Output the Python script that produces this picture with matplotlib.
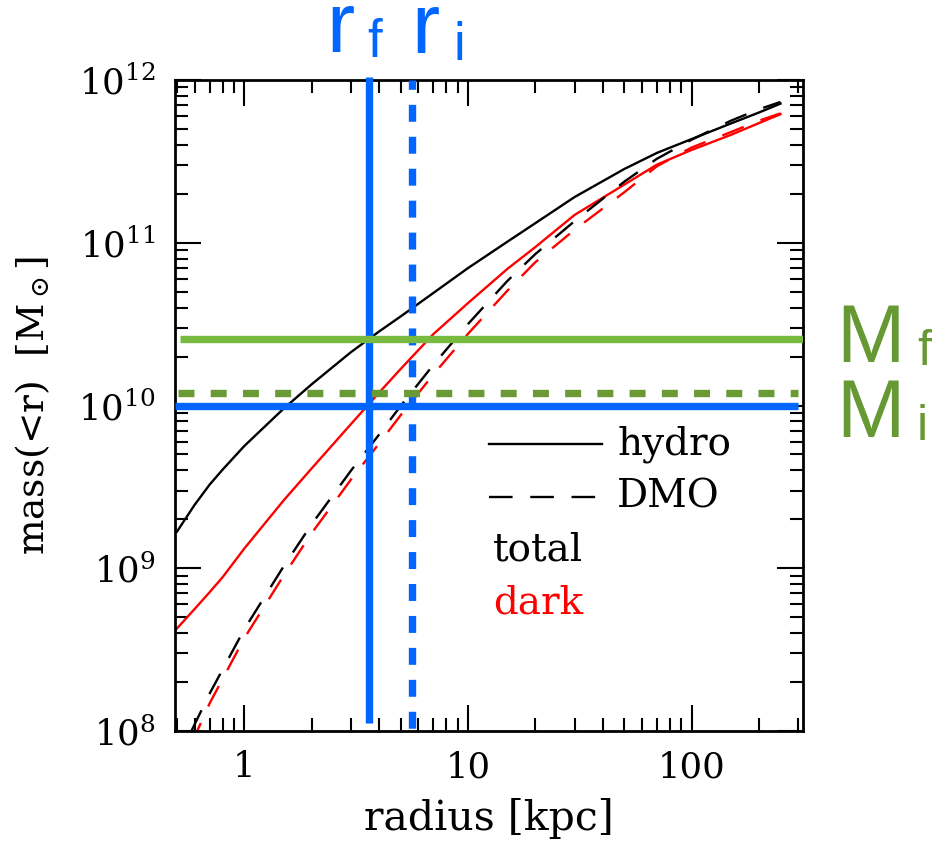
import matplotlib
matplotlib.use("Agg")
from matplotlib import pyplot as plt
from matplotlib import ticker
import numpy as np

plt.rcParams["font.family"] = ["DejaVu Serif"]
plt.rcParams["mathtext.fontset"] = "dejavuserif"
plt.rcParams["mathtext.rm"] = "Liberation Sans"
plt.rcParams["lines.scale_dashes"] = False

# enclosed mass profiles, log10(M / Msun)
radius = [0.5, 0.6, 0.7, 0.8, 1, 1.5, 2, 3, 4, 5, 7, 10, 15, 20, 30, 50, 70, 100, 150, 200, 250]
hydro_total = [9.225, 9.390, 9.514, 9.606, 9.751, 9.981, 10.130, 10.328, 10.454, 10.547,
               10.691, 10.844, 11.006, 11.120, 11.281, 11.453, 11.552, 11.637, 11.733,
               11.800, 11.855]
hydro_dark = [8.630, 8.750, 8.853, 8.945, 9.121, 9.417, 9.613, 9.886, 10.078, 10.224,
              10.438, 10.629, 10.839, 10.973, 11.171, 11.357, 11.480, 11.570, 11.663,
              11.735, 11.790]

radius_dmo = [0.58, 0.7, 1, 1.5, 2, 3, 4, 5, 7, 10, 15, 20, 30, 50, 70, 100, 150, 200, 250]
dmo_total = [8.000, 8.230, 8.625, 9.012, 9.270, 9.600, 9.820, 9.997, 10.249, 10.500,
             10.765, 10.930, 11.133, 11.375, 11.516, 11.633, 11.750, 11.820, 11.865]
dmo_dark = [7.920, 8.170, 8.570, 8.955, 9.215, 9.545, 9.765, 9.940, 10.190, 10.440,
            10.705, 10.880, 11.080, 11.310, 11.470, 11.585, 11.680, 11.750, 11.795]

# characteristic radii [kpc] and masses [Msun]
r_f, r_i = 3.6, 5.6
m_f, m_i = 2.55e10, 1.2e10
m_ref = 1e10

blue = "#0066ff"
green = "#78b940"
green_dash = "#6a9a36"
green_text = "#669933"

fig = plt.figure(figsize=(9.34, 8.42), dpi=100)
ax = fig.add_axes([175/934, 1 - 731/842, 628/934, 651/842])
ax.set_xscale("log")
ax.set_yscale("log")
ax.set_xlim(0.49, 315)
ax.set_ylim(1e8, 1e12)

lw_curve = 1.7
dmo_dash = (16.6, 13.0)
ax.plot(radius, 10**np.array(hydro_total), color="black", lw=lw_curve, zorder=2)
ax.plot(radius, 10**np.array(hydro_dark), color="red", lw=lw_curve, zorder=2)
ax.plot(radius_dmo, 10**np.array(dmo_total), color="black", lw=lw_curve, dashes=dmo_dash, zorder=2)
ax.plot(radius_dmo, 10**np.array(dmo_dark), color="red", lw=lw_curve, dashes=dmo_dash, zorder=2)

lw_thick = 5.3
ax.axvline(r_f, ymin=0.012, ymax=1.004, color=blue, lw=lw_thick, clip_on=False,
           solid_capstyle="butt", zorder=3)
ax.axvline(r_i, ymin=0, ymax=1, color=blue, lw=lw_thick, linestyle=(21, (12.2, 10.8)),
           zorder=3)
ax.axhline(m_ref, xmin=0, xmax=0.992, color=blue, lw=lw_thick, solid_capstyle="butt",
           zorder=3)
ax.axhline(m_f, xmin=0.008, xmax=1, color=green, lw=lw_thick, solid_capstyle="butt",
           zorder=4)
ax.axhline(m_i, xmin=0.004, xmax=0.992, color=green_dash, lw=lw_thick,
           linestyle=(0, (11.5, 11.7)), zorder=4)

# hand-made legend
ax.plot([0.5, 0.68], [0.441, 0.441], transform=ax.transAxes, color="black", lw=lw_curve)
ax.plot([0.5, 0.68], [0.359, 0.359], transform=ax.transAxes, color="black", lw=lw_curve,
        dashes=(17, 12.7))
ax.text(0.704, 0.441, "hydro", transform=ax.transAxes, fontsize=28, va="center")
ax.text(0.704, 0.359, "DMO", transform=ax.transAxes, fontsize=28, va="center")
ax.text(0.506, 0.278, "total", transform=ax.transAxes, fontsize=28, va="center")
ax.text(0.506, 0.197, "dark", transform=ax.transAxes, fontsize=28, va="center", color="red")

ax.set_xlabel("radius [kpc]", fontsize=29.5)
ax.set_ylabel(r"mass(<r)  [M$_\odot$]", fontsize=27)
ax.xaxis.set_label_coords(0.5, -0.103)
ax.yaxis.set_label_coords(-0.196, 0.5)

ax.xaxis.set_major_locator(ticker.FixedLocator([1, 10, 100]))
ax.xaxis.set_major_formatter(ticker.FixedFormatter(["1", "10", "100"]))
ax.xaxis.set_minor_locator(ticker.LogLocator(subs=np.arange(2, 10)))
ax.xaxis.set_minor_formatter(ticker.NullFormatter())
ax.yaxis.set_major_locator(ticker.LogLocator(numticks=10))
ax.yaxis.set_minor_locator(ticker.LogLocator(subs=np.arange(2, 10), numticks=10))
ax.yaxis.set_minor_formatter(ticker.NullFormatter())
ax.tick_params(which="both", direction="in", top=True, right=True, width=1.5,
               labelsize=25.5, pad=14)
ax.tick_params(which="major", length=18.5)
ax.tick_params(which="minor", length=9.5)
for s in ax.spines.values():
    s.set_linewidth(2)

# labels for the marked radii and masses
def fig_text(px, py, s, size, color):
    fig.text(px/934, 1 - py/842, r"$\mathrm{%s}$" % s, fontsize=size, color=color,
             va="baseline", ha="left", math_fontfamily="custom")

fig_text(326, 52, "r", 61, blue)
fig_text(367, 57, "f", 38, blue)
fig_text(411, 53, "r", 61, blue)
fig_text(453, 60, "i", 38, blue)
fig_text(836, 362, "M", 59, green_text)
fig_text(917, 365, "f", 36, green_text)
fig_text(836, 437, "M", 59, green_text)
fig_text(916, 440, "i", 36, green_text)

fig.savefig("out.png", dpi=100)
